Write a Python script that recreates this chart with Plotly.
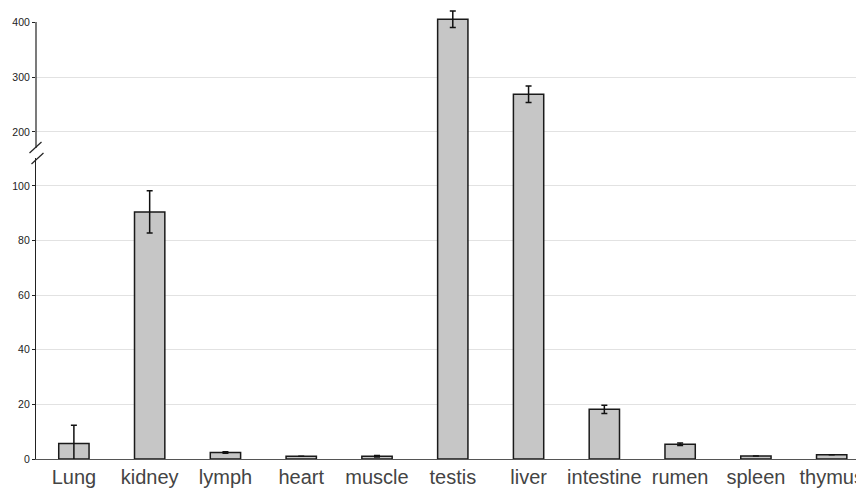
import plotly.graph_objects as go

tissues = ["Lung", "kidney", "lymph", "heart", "muscle", "testis", "liver",
           "intestine", "rumen", "spleen", "thymus"]
expression = [5.7, 90.5, 2.4, 1.0, 1.0, 405, 268.5, 18.2, 5.4, 1.1, 1.6]
error = [6.7, 7.7, 0.3, 0.0, 0.3, 15, 15, 1.5, 0.5, 0.0, 0.0]

lower_ticks = [0, 20, 40, 60, 80, 100]
upper_ticks = [200, 300, 400]
upper_grid = [200, 300]
lower_range = [0, 110.6]
upper_range = [154.5, 425.5]

bar_style = dict(
    marker=dict(color="#c6c6c6", line=dict(color="#1a1a1a", width=1.5)),
    width=0.4,
    error_y=dict(type="data", array=error, visible=True, color="#111",
                 thickness=1.5, width=3),
    showlegend=False,
    hoverinfo="x+y",
)

fig = go.Figure()
fig.add_trace(go.Bar(x=tissues, y=expression, xaxis="x", yaxis="y", **bar_style))
fig.add_trace(go.Bar(x=tissues, y=expression, xaxis="x", yaxis="y2", **bar_style))

# page body has an 8px default margin: figure is offset by 8px
split = 302 / 451
tickfont = dict(family="Liberation Sans, Arial", size=10.5, color="#222")

fig.update_layout(
    width=856, height=481,
    margin=dict(l=28, r=0, t=0, b=30),
    paper_bgcolor="white", plot_bgcolor="white",
    bargap=0.6,
    xaxis=dict(
        type="category", range=[-0.5, 10.4],
        showline=True, linecolor="#555", linewidth=1.2,
        ticks="", showgrid=False,
        tickfont=dict(family="Liberation Sans, Arial", size=20, color="#444"),
        anchor="y",
    ),
    yaxis=dict(
        domain=[0, split], range=lower_range,
        tickvals=lower_ticks, ticktext=[str(v) for v in lower_ticks],
        ticks="outside", ticklen=3, tickcolor="#222",
        showline=True, linecolor="#222", linewidth=1.2,
        showgrid=True, gridcolor="#e2e2e2", gridwidth=1,
        zeroline=False, tickfont=tickfont, anchor="x",
    ),
    yaxis2=dict(
        domain=[split, 1], range=upper_range,
        tickvals=upper_ticks, ticktext=[str(v) for v in upper_ticks],
        ticks="outside", ticklen=3, tickcolor="#222",
        showline=False, showgrid=False,
        zeroline=False, tickfont=tickfont, anchor="x",
    ),
    yaxis3=dict(
        domain=[split, 1], range=upper_range, overlaying="y2",
        tickvals=upper_grid, showticklabels=False, ticks="",
        showgrid=True, gridcolor="#e2e2e2", gridwidth=1,
        showline=False, zeroline=False, anchor="x",
    ),
)

# invisible trace to activate yaxis3
fig.add_trace(go.Scatter(x=[tissues[0]], y=[upper_range[0]], yaxis="y3",
                         mode="markers", marker=dict(opacity=0),
                         showlegend=False, hoverinfo="skip"))

# upper y-axis line (ends at the top tick)
fig.add_shape(type="line", xref="paper", yref="y2", x0=0, x1=0,
              y0=upper_range[0], y1=upper_ticks[-1],
              line=dict(color="#222", width=1.2))

# axis break: white gap + two slashes (page-pixel helpers)
W, H = 828.0, 451.0
def px(x):
    return (x - 36) / W
def py(y):
    return (459 - y) / H

fig.add_shape(type="rect", xref="paper", yref="paper",
              x0=px(33), x1=px(39), y0=py(158), y1=py(148),
              fillcolor="white", line=dict(width=0), layer="above")
fig.add_shape(type="line", xref="paper", yref="paper",
              x0=px(29.5), y0=py(153), x1=px(41.5), y1=py(142),
              line=dict(color="#222", width=1.2))
fig.add_shape(type="line", xref="paper", yref="paper",
              x0=px(31.5), y0=py(164), x1=px(43.5), y1=py(153),
              line=dict(color="#222", width=1.2))

fig.write_html("out.html")
